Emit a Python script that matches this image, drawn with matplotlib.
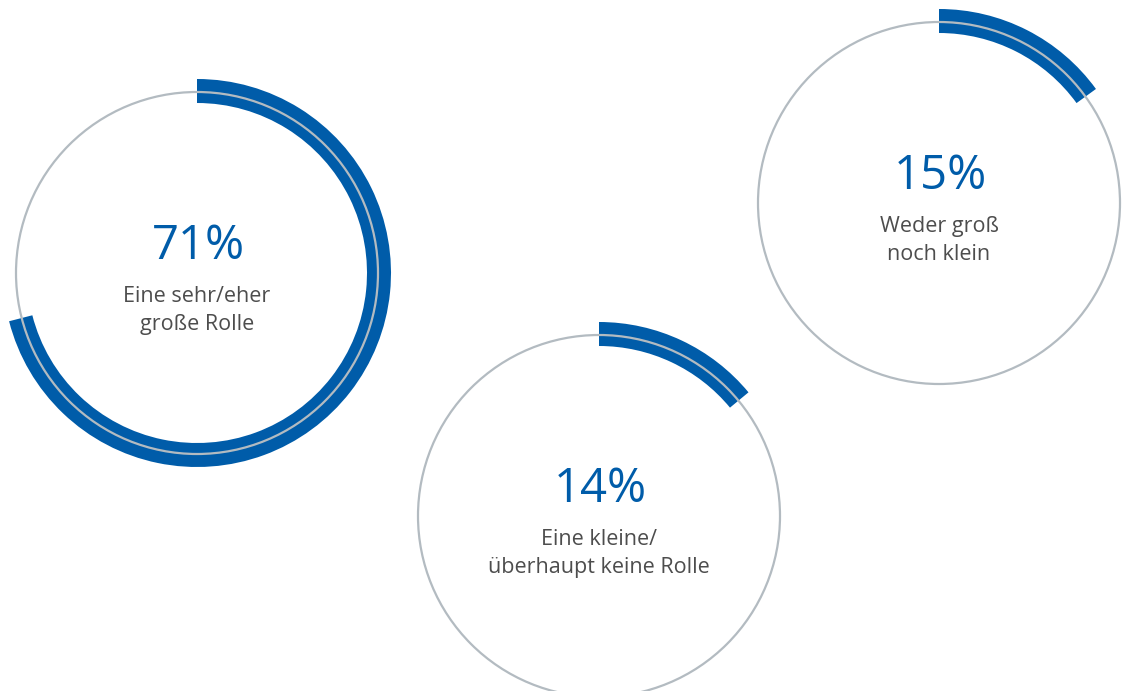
import matplotlib
matplotlib.use("Agg")
import matplotlib.pyplot as plt
from matplotlib.patches import Circle, Wedge

# Antworten auf die Frage nach der Rolle (Anteile in %)
shares = [71, 15, 14]
labels = [
    "Eine sehr/eher\ngroße Rolle",
    "Weder groß\nnoch klein",
    "Eine kleine/\nüberhaupt keine Rolle",
]

# Layout in Pixeln (x, y von oben), Radius
centers = [(197, 273), (939, 203), (599, 516)]
radius = 181
ring_out = 13
ring_in = 11

BLUE = "#005ca9"
GREY = "#b3bbc1"
TEXT = "#4d4d4d"

plt.rcParams["font.family"] = ["Open Sans", "DejaVu Sans"]

fig = plt.figure(figsize=(11.23, 6.91), dpi=100)
ax = fig.add_axes([0, 0, 1, 1])
ax.set_xlim(0, 1123)
ax.set_ylim(691, 0)
ax.set_aspect("equal")
ax.axis("off")

for (cx, cy), share, label in zip(centers, shares, labels):
    # y-Achse ist invertiert: Winkel gegen den Uhrzeigersinn => im Bild im Uhrzeigersinn
    sweep = share / 100 * 360
    arc = Wedge((cx, cy), radius + ring_out, 270, 270 + sweep,
                width=ring_out + ring_in, facecolor=BLUE, edgecolor="none", zorder=1)
    ax.add_patch(arc)
    ring = Circle((cx, cy), radius, facecolor="none", edgecolor=GREY, linewidth=1.6, zorder=2)
    ax.add_patch(ring)
    ax.text(cx + 1, cy - 27, f"{share}%", color=BLUE, fontsize=34,
            ha="center", va="center", zorder=3)
    ax.text(cx, cy + 13, label, color=TEXT, fontsize=15.5,
            ha="center", va="top", linespacing=1.45, zorder=3)

fig.savefig("out.png", dpi=100)
